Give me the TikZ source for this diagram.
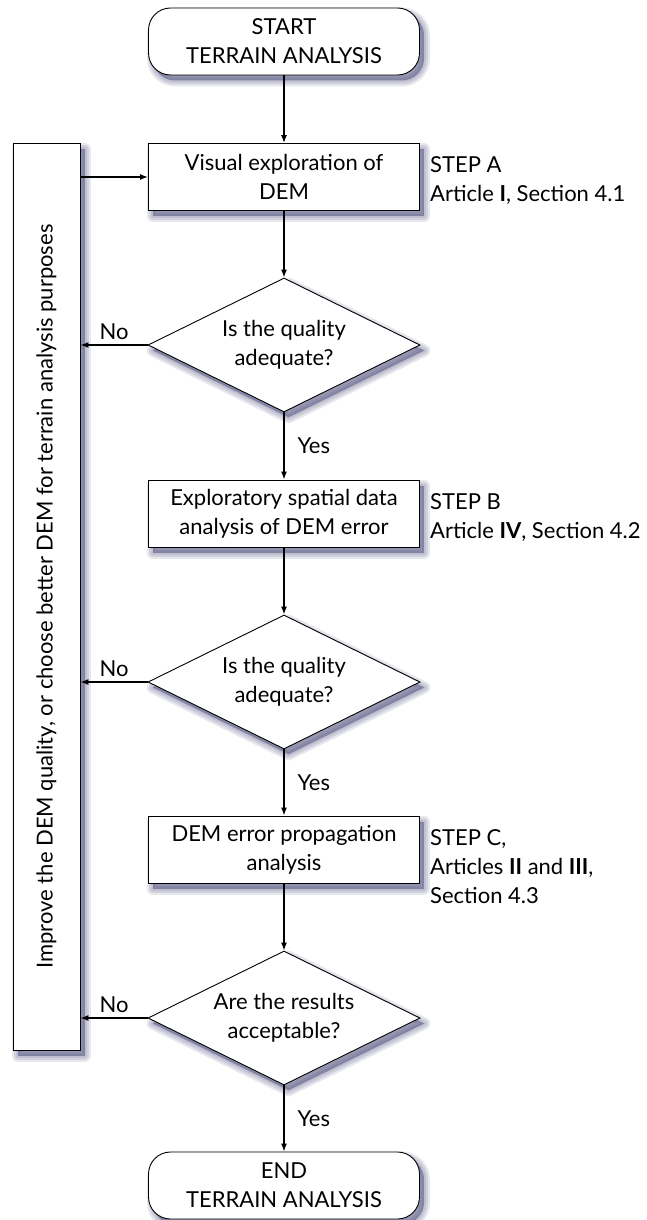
\documentclass[tikz,border=0pt]{standalone}
\usepackage{fontspec}
\setmainfont{Lato}
\usetikzlibrary{shapes.geometric,arrows.meta}
\definecolor{shc}{RGB}{70,70,120}
\begin{document}
\begin{tikzpicture}[x=1pt,y=1pt,
  font=\fontsize{22}{29}\selectfont,
  shl/.style={preaction={draw=shc, opacity=0.13, line width=#1, line join=round, transform canvas={shift={(4.5pt,-5.5pt)}}}},
  shadowed/.style={
    preaction={fill=shc, opacity=0.5, transform canvas={shift={(4.5pt,-5.5pt)}}},
    shl=12pt, shl=8pt, shl=4pt},
  proc/.style={shadowed, draw=black, fill=white, line width=0.9pt, minimum width=271pt, minimum height=67pt, inner sep=0pt, align=center},
  term/.style={proc, rounded corners=22pt},
  dec/.style={shadowed, diamond, draw=black, fill=white, line width=0.9pt, minimum width=272pt, minimum height=134pt, inner sep=0pt, align=center, aspect=2},
  arr/.style={-{Latex[length=8pt,width=6pt]}, line width=1.2pt},
  note/.style={anchor=north west, align=left, inner sep=0pt},
  yes/.style={midway, right, inner sep=0pt, xshift=13pt},
  no/.style={midway, above, inner sep=0pt, yshift=5pt}]
\useasboundingbox (0,0) rectangle (647,-1220);

\node[proc, minimum width=67pt, minimum height=907pt] (left) at (46.5,-596.5) {};
\node[rotate=90, inner sep=0pt] (lt) at (left.center) {Improve the DEM quality, or choose better DEM for terrain analysis purposes};

\node[term] (start) at (284,-41.5) {START\\TERRAIN ANALYSIS};
\node[proc] (a) at (284,-177) {Visual exploration of\\DEM};
\node[dec] (d1) at (284,-345) {Is the quality\\adequate?};
\node[proc] (b) at (284,-513.5) {Exploratory spatial data\\analysis of DEM error};
\node[dec] (d2) at (284,-682) {Is the quality\\adequate?};
\node[proc] (c) at (284,-849.5) {DEM error propagation\\analysis};
\node[dec] (d3) at (284,-1018) {Are the results\\acceptable?};
\node[term] (end) at (284,-1185.5) {END\\TERRAIN ANALYSIS};

\node[note] (na) at (430,-156) {STEP A\\Article \textbf{I}, Section 4.1};
\node[note] (nb) at (430,-493) {STEP B\\Article \textbf{IV}, Section 4.2};
\node[note] (nc) at (430,-829) {STEP C,\\Articles \textbf{II} and \textbf{III},\\Section 4.3};

\draw[arr] (start) -- (a);
\draw[arr] (a) -- (d1);
\draw[arr] (d1) -- node[yes] {Yes} (b);
\draw[arr] (b) -- (d2);
\draw[arr] (d2) -- node[yes] {Yes} (c);
\draw[arr] (c) -- (d3);
\draw[arr] (d3) -- node[yes] {Yes} (end);

\draw[arr] (d1.west) -- node[no] {No} (d1.west -| left.east);
\draw[arr] (d2.west) -- node[no] {No} (d2.west -| left.east);
\draw[arr] (d3.west) -- node[no] {No} (d3.west -| left.east);
\draw[arr] (left.east |- a.west) -- (a.west);
\end{tikzpicture}
\end{document}
